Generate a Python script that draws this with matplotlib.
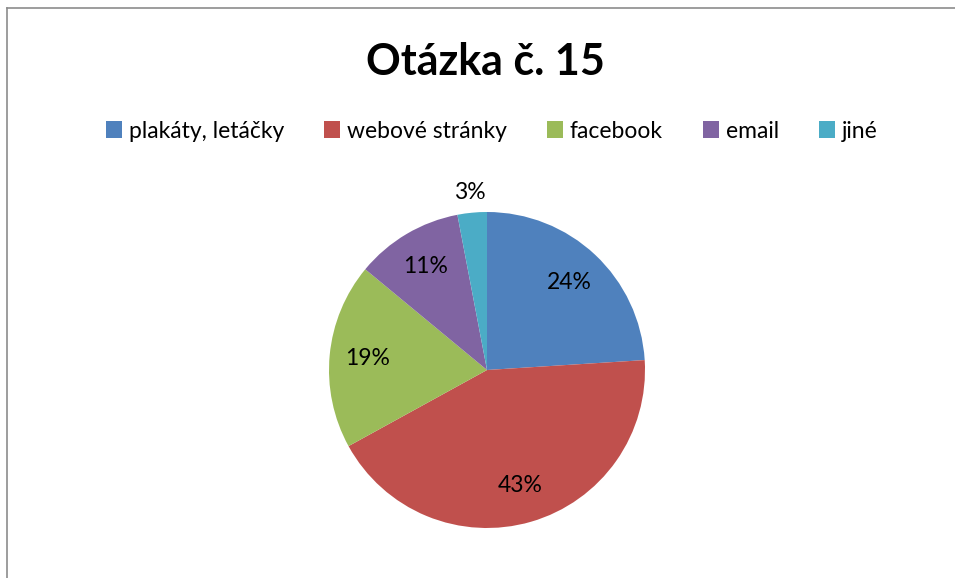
import matplotlib
matplotlib.use("Agg")
import matplotlib.pyplot as plt
from matplotlib.patches import Patch
from matplotlib.lines import Line2D
import numpy as np

# Otázka č. 15 - koláčový graf
kategorie = ["plakáty, letáčky", "webové stránky", "facebook", "email", "jiné"]
hodnoty = [24, 43, 19, 11, 3]
barvy = ["#4F81BD", "#C0504D", "#9BBB59", "#8064A2", "#4BACC6"]

plt.rcParams["font.family"] = ["Lato", "DejaVu Sans"]

W, H = 955, 578
fig = plt.figure(figsize=(W / 100, H / 100), dpi=100)
fig.patch.set_facecolor("white")

# střed a poloměr koláče v pixelech
cx, cy, r = 487, 370, 158
ax = fig.add_axes([(cx - r) / W, (H - cy - r) / H, 2 * r / W, 2 * r / H])

klinky, texty, procenta = ax.pie(
    hodnoty,
    colors=barvy,
    startangle=90,
    counterclock=False,
    autopct="%1.0f%%",
    pctdistance=0.76,
    radius=1,
    textprops={"fontsize": 16.5, "color": "black"},
)
ax.set_xlim(-1, 1)
ax.set_ylim(-1, 1)
ax.set_aspect("equal")
ax.axis("off")

# malý dílek "jiné" má popisek venku
w = klinky[-1]
uhel = np.deg2rad((w.theta1 + w.theta2) / 2)
procenta[-1].set_position((1.13 * np.cos(uhel), 1.13 * np.sin(uhel)))

# titulek
fig.text(0.508, 1 - 62 / H, "Otázka č. 15", ha="center", va="center",
         fontsize=31, fontweight="bold")

# legenda
handles = [Patch(facecolor=c, edgecolor="none") for c in barvy]
fig.legend(
    handles, kategorie,
    loc="center", bbox_to_anchor=(0.515, 1 - 131 / H),
    ncol=5, frameon=False, fontsize=16.5,
    handlelength=0.7, handleheight=0.7, handletextpad=0.3,
    columnspacing=1.75,
)

# rámeček
fig.add_artist(Line2D([7 / W, 7 / W], [0, 1 - 8 / H], color="#8c8c8c", lw=1.2))
fig.add_artist(Line2D([7 / W, 1], [1 - 8 / H, 1 - 8 / H], color="#8c8c8c", lw=1.2))

fig.savefig("out.png", dpi=100)
